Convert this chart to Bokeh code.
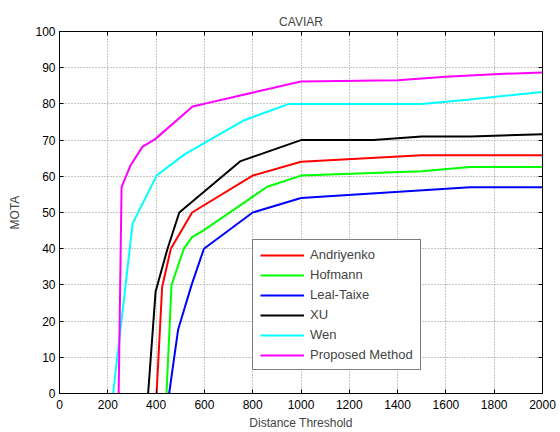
from bokeh.plotting import figure
from bokeh.models import FixedTicker, LinearAxis, Range1d, Legend, LegendItem, Title
from bokeh.embed import file_html
from bokeh.resources import INLINE

x_andriyenko = [402, 425, 461, 549, 800, 1000, 1500, 2000]
y_andriyenko = [0, 29.4, 40, 50, 60.2, 64, 65.8, 65.8]

x_hofmann = [443, 464, 515, 549, 595, 860, 1000, 1500, 1700, 2000]
y_hofmann = [0, 30, 40, 43.2, 45, 57.1, 60.2, 61.4, 62.6, 62.6]

x_leal = [454, 491, 547, 598, 800, 1000, 1700, 2000]
y_leal = [0, 17.6, 30, 40, 50, 54, 57, 57]

x_xu = [367, 398, 446, 496, 750, 1000, 1300, 1500, 1700, 2000]
y_xu = [0, 28.2, 39.7, 50, 64.2, 70, 70, 71, 71, 71.6]

x_wen = [222, 303, 402, 516, 765, 950, 1500, 1700, 2000]
y_wen = [0, 47, 60.2, 66, 75.5, 80, 80, 81.2, 83.3]

x_proposed = [245, 257, 294, 344, 395, 551, 598, 1000, 1400, 1600, 1800, 2000]
y_proposed = [0, 57, 63, 68.2, 70.2, 79.3, 80, 86.2, 86.5, 87.5, 88.2, 88.7]

series_names = ["Andriyenko", "Hofmann", "Leal-Taixe", "XU", "Wen", "Proposed Method"]
series_colors = ["#ff0000", "#00ff00", "#0000ff", "#000000", "#00ffff", "#ff00ff"]
series_x = [x_andriyenko, x_hofmann, x_leal, x_xu, x_wen, x_proposed]
series_y = [y_andriyenko, y_hofmann, y_leal, y_xu, y_wen, y_proposed]

x_ticks = list(range(0, 2001, 200))
y_ticks = list(range(0, 101, 10))

FONT = "Liberation Sans"

p = figure(width=560, height=432, output_backend="svg", toolbar_location=None,
           x_range=Range1d(0, 2000), y_range=Range1d(0, 100),
           min_border_left=59, min_border_right=18, min_border_top=31, min_border_bottom=38)
p.title = Title(text="CAVIAR", align="center", text_font=FONT, text_font_size="12px",
                text_font_style="normal", standoff=6)
p.background_fill_color = "white"
p.border_fill_color = "white"
p.outline_line_color = "black"
p.outline_line_width = 1

items = []
for name, col, xs, ys in zip(series_names, series_colors, series_x, series_y):
    r = p.line(xs, ys, line_color=col, line_width=2)
    items.append(LegendItem(label=name, renderers=[r]))

for ax, ticks in ((p.xaxis[0], x_ticks), (p.yaxis[0], y_ticks)):
    ax.ticker = FixedTicker(ticks=ticks)
    ax.major_tick_in = 4
    ax.major_tick_out = 0
    ax.minor_tick_line_color = None
    ax.major_label_text_font = FONT
    ax.major_label_text_font_size = "12px"
    ax.major_label_text_color = "black"
    ax.axis_label_text_font = FONT
    ax.axis_label_text_font_size = "12px"
    ax.axis_label_text_font_style = "normal"
    ax.axis_line_color = "black"
    ax.major_tick_line_color = "black"

p.xaxis[0].axis_label = "Distance Threshold"
p.xaxis[0].major_label_standoff = 6
p.xaxis[0].axis_label_standoff = 4
p.yaxis[0].axis_label = "MOTA"
p.yaxis[0].major_label_standoff = 4
p.yaxis[0].axis_label_standoff = 10

# mirrored ticks on top and right (minor ticks only, so no labels)
top_ax = LinearAxis(ticker=FixedTicker(ticks=[], minor_ticks=x_ticks),
                    minor_tick_in=4, minor_tick_out=0, major_tick_in=0, major_tick_out=0,
                    axis_line_color="black", minor_tick_line_color="black")
right_ax = LinearAxis(ticker=FixedTicker(ticks=[], minor_ticks=y_ticks),
                      minor_tick_in=4, minor_tick_out=0, major_tick_in=0, major_tick_out=0,
                      axis_line_color="black", minor_tick_line_color="black")
p.add_layout(top_ax, "above")
p.add_layout(right_ax, "right")

p.xgrid[0].ticker = FixedTicker(ticks=x_ticks)
p.ygrid[0].ticker = FixedTicker(ticks=y_ticks)
for g in (p.xgrid[0], p.ygrid[0]):
    g.grid_line_color = "#8c8c8c"
    g.grid_line_dash = "1 2"
    g.grid_line_width = 1

legend = Legend(items=items, location=(193, 23), orientation="vertical",
                label_text_font=FONT, label_text_font_size="13px",
                glyph_width=44, glyph_height=14, label_height=14, label_standoff=6,
                spacing=5, padding=7, margin=0,
                border_line_color="black", border_line_width=1,
                background_fill_color="white", background_fill_alpha=1)
p.add_layout(legend, "center")

open("out.html", "w").write(file_html(p, INLINE))
